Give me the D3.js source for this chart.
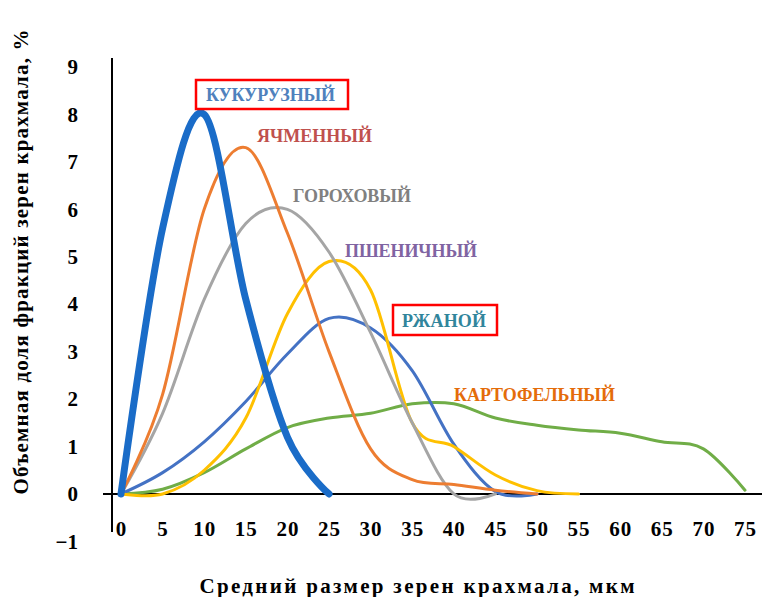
<!DOCTYPE html>
<html>
<head>
<meta charset="utf-8">
<script src="https://cdn.jsdelivr.net/npm/d3@7"></script>
<style>
  body { margin: 0; background: #fff; }
  svg text { font-family: "Liberation Serif", "Times New Roman", "DejaVu Serif", serif; }
</style>
</head>
<body>
<div id="chart"></div>
<script>
// Starch grain size distributions, values read at 5 µm steps
var xTicks = [0, 5, 10, 15, 20, 25, 30, 35, 40, 45, 50, 55, 60, 65, 70, 75];
var yTicks = [-1, 0, 1, 2, 3, 4, 5, 6, 7, 8, 9];

var cornX = [0, 5, 10, 15, 20, 25];
var cornY = [0, 5.6, 8.0, 4.1, 1.2, 0];

var barleyX = [0, 5, 10, 15, 20, 25, 30, 35, 40, 45, 50];
var barleyY = [0, 2.1, 6.0, 7.3, 5.5, 3.0, 0.95, 0.3, 0.2, 0.08, 0];

var peaX = [0, 5, 10, 15, 20, 25, 30, 35, 40, 45];
var peaY = [0, 1.7, 4.1, 5.7, 6.0, 5.1, 3.4, 1.5, 0, 0];

var wheatX = [0, 5, 10, 15, 20, 25, 30, 35, 40, 45, 50, 55];
var wheatY = [0, 0, 0.5, 1.6, 3.8, 4.9, 4.3, 1.5, 1.0, 0.4, 0.07, 0];

var ryeX = [0, 5, 10, 15, 20, 25, 30, 35, 40, 45, 50];
var ryeY = [0, 0.45, 1.1, 1.95, 2.95, 3.7, 3.5, 2.6, 1.05, 0.05, 0];

var potatoX = [0, 5, 10, 15, 20, 25, 30, 35, 40, 45, 50, 55, 60, 65, 70, 75];
var potatoY = [0, 0.1, 0.45, 0.95, 1.4, 1.6, 1.7, 1.9, 1.9, 1.6, 1.45, 1.35, 1.28, 1.1, 0.95, 0.08];

var seriesNames = ["КУКУРУЗНЫЙ", "ЯЧМЕННЫЙ", "ГОРОХОВЫЙ", "ПШЕНИЧНЫЙ", "РЖАНОЙ", "КАРТОФЕЛЬНЫЙ"];

var svgWidth = 762;
var svgHeight = 597;
var serif = "'Liberation Serif', 'Times New Roman', serif";

var svg = d3.select("#chart")
  .append("svg")
  .attr("width", svgWidth)
  .attr("height", svgHeight);

var xScale = d3.scaleLinear().domain([0, 75]).range([121, 745]);
var yScale = d3.scaleLinear().domain([-1, 9]).range([541.4, 67]);

// axis lines
svg.append("line")
  .attr("x1", 112).attr("x2", 112)
  .attr("y1", 58).attr("y2", 532)
  .attr("stroke", "#000").attr("stroke-width", 2);
svg.append("line")
  .attr("x1", 103).attr("x2", 762)
  .attr("y1", yScale(0)).attr("y2", yScale(0))
  .attr("stroke", "#000").attr("stroke-width", 2);

// tick labels
var xAxis = d3.axisBottom(xScale).tickValues(xTicks).tickSize(0).tickPadding(0);
var gx = svg.append("g").attr("transform", "translate(0,521)").call(xAxis);
gx.select(".domain").remove();
gx.selectAll("text")
  .style("font-family", serif)
  .style("font-size", "21px").style("font-weight", "bold")
  .style("letter-spacing", "1px").attr("fill", "#000");

var yAxis = d3.axisLeft(yScale).tickValues(yTicks).tickSize(0).tickPadding(0);
var gy = svg.append("g").attr("transform", "translate(78,0)").call(yAxis);
gy.select(".domain").remove();
gy.selectAll("text")
  .style("font-family", serif)
  .style("font-size", "21px").style("font-weight", "bold").attr("fill", "#000");

// axis titles
svg.append("text")
  .attr("transform", "translate(28,262) rotate(-90)")
  .attr("text-anchor", "middle")
  .attr("textLength", 465).attr("lengthAdjust", "spacing")
  .style("font-size", "21px").style("font-weight", "bold")
  .text("Объемная доля фракций зерен крахмала, %");

svg.append("text")
  .attr("x", 417).attr("y", 593)
  .attr("text-anchor", "middle")
  .attr("textLength", 435).attr("lengthAdjust", "spacing")
  .style("font-size", "21px").style("font-weight", "bold")
  .text("Средний размер зерен крахмала, мкм");

// curves
var line = d3.line()
  .x(d => xScale(d[0]))
  .y(d => yScale(d[1]))
  .curve(d3.curveCardinal.tension(0));

function draw(xs, ys, color, width) {
  var pts = xs.map((x, i) => [x, ys[i]]);
  svg.append("path")
    .datum(pts)
    .attr("d", line)
    .attr("fill", "none")
    .attr("stroke", color)
    .attr("stroke-width", width)
    .attr("stroke-linecap", "round")
    .attr("stroke-linejoin", "round");
}

draw(potatoX, potatoY, "#70ad47", 3);
draw(ryeX, ryeY, "#4472c4", 3);
draw(wheatX, wheatY, "#ffc000", 3);
draw(peaX, peaY, "#a5a5a5", 3);
draw(barleyX, barleyY, "#ed7d31", 3);
draw(cornX, cornY, "#1a6cc8", 7);

// series labels
var labels = [
  { x: 206, y: 101, w: 129, color: "#4f81bd", box: [196, 80, 152, 29] },
  { x: 257, y: 142, w: 115, color: "#c0504d" },
  { x: 293, y: 202, w: 118, color: "#808080" },
  { x: 345, y: 257, w: 132, color: "#8064a2" },
  { x: 402, y: 327, w: 84, color: "#31859c", box: [393, 305, 104, 30] },
  { x: 454, y: 401, w: 161, color: "#e46c0a" }
];

labels.forEach(function(l, i) {
  if (l.box) {
    svg.append("rect")
      .attr("x", l.box[0]).attr("y", l.box[1])
      .attr("width", l.box[2]).attr("height", l.box[3])
      .attr("fill", "#fff")
      .attr("stroke", "#ff0000").attr("stroke-width", 2.5);
  }
  svg.append("text")
    .attr("x", l.x).attr("y", l.y)
    .attr("fill", l.color)
    .attr("textLength", l.w).attr("lengthAdjust", "spacing")
    .style("font-size", "18px").style("font-weight", "bold")
    .text(seriesNames[i]);
});
</script>
</body>
</html>
